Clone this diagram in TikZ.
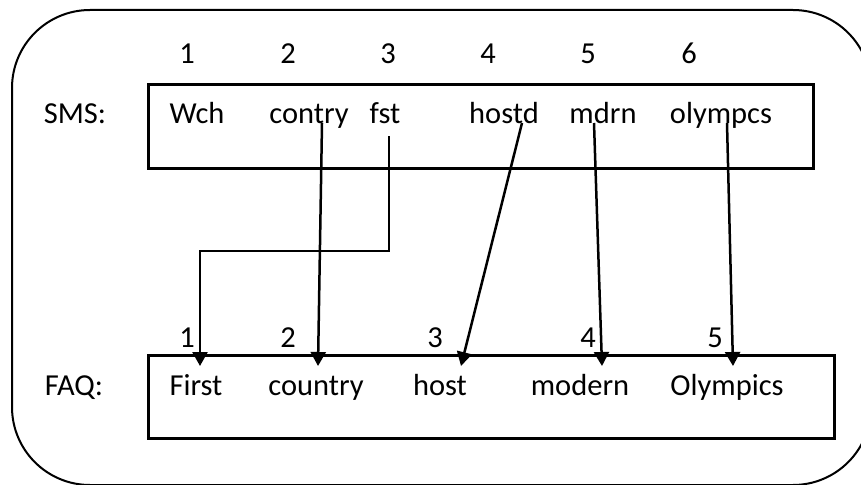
\documentclass[tikz,border=0pt]{standalone}
\usepackage{fontspec}
\setmainfont{Carlito}
\usetikzlibrary{arrows.meta}
\begin{document}
\begin{tikzpicture}[x=1pt,y=-1pt,
  txt/.style={anchor=base,inner sep=0pt,font=\fontsize{30.5}{35}\selectfont},
  box/.style={draw,line width=3pt},
  link/.style={draw,line width=2.5pt,-{Triangle[length=14pt,width=15pt]}}]
\useasboundingbox (0,0) rectangle (861,484);
\clip (0,0) rectangle (861,484);
\draw[line width=2pt,rounded corners=78pt] (12,10) rectangle (871,485);
% boxes
\node[box,inner sep=0pt,minimum width=665pt,minimum height=84pt,anchor=north west] (smsbox) at (147,83) {};
\node[box,inner sep=0pt,minimum width=686pt,minimum height=83pt,anchor=north west] (faqbox) at (147,354) {};
% labels
\node[txt] (smsl) at (75,124) {SMS:};
\node[txt] (faql) at (74,395) {FAQ:};
% top numbers
\node[txt] (tn1) at (187,64) {1};
\node[txt] (tn2) at (288,64) {2};
\node[txt] (tn3) at (388,64) {3};
\node[txt] (tn4) at (488,64) {4};
\node[txt] (tn5) at (588,64) {5};
\node[txt] (tn6) at (689,64) {6};
% SMS words
\node[txt] (w1) at (197,124) {Wch};
\node[txt] (w2) at (309,124) {contry};
\node[txt] (w3) at (385,124) {fst};
\node[txt] (w4) at (504,124) {hostd};
\node[txt] (w5) at (603,124) {mdrn};
\node[txt] (w6) at (721,124) {olympcs};
% bottom numbers
\node[txt] (bn1) at (187,347) {1};
\node[txt] (bn2) at (288,347) {2};
\node[txt] (bn3) at (435,347) {3};
\node[txt] (bn4) at (588,347) {4};
\node[txt] (bn5) at (715,347) {5};
% FAQ words
\node[txt] (f1) at (196,395) {First};
\node[txt] (f2) at (316,395) {country};
\node[txt] (f3) at (440,395) {host};
\node[txt] (f4) at (580,395) {modern};
\node[txt] (f5) at (727,395) {Olympics};
% connector end points
\coordinate (s2) at (322,123);
\coordinate (s3) at (389,136);
\coordinate (s4) at (522,123);
\coordinate (s5) at (594,123);
\coordinate (s6) at (727,123);
\coordinate (e1) at (200,366);
\coordinate (e2) at (318,366);
\coordinate (e3) at (461,366);
\coordinate (e4) at (602,366);
\coordinate (e5) at (733,366);
\coordinate (c1) at (389,251);
\coordinate (c2) at (200,251);
% connectors
\draw[link] (s2) -- (e2);
\draw[link] (s3) -- (c1) -- (c2) -- (e1);
\draw[link] (s4) -- (e3);
\draw[link] (s5) -- (e4);
\draw[link] (s6) -- (e5);
\end{tikzpicture}
\end{document}
